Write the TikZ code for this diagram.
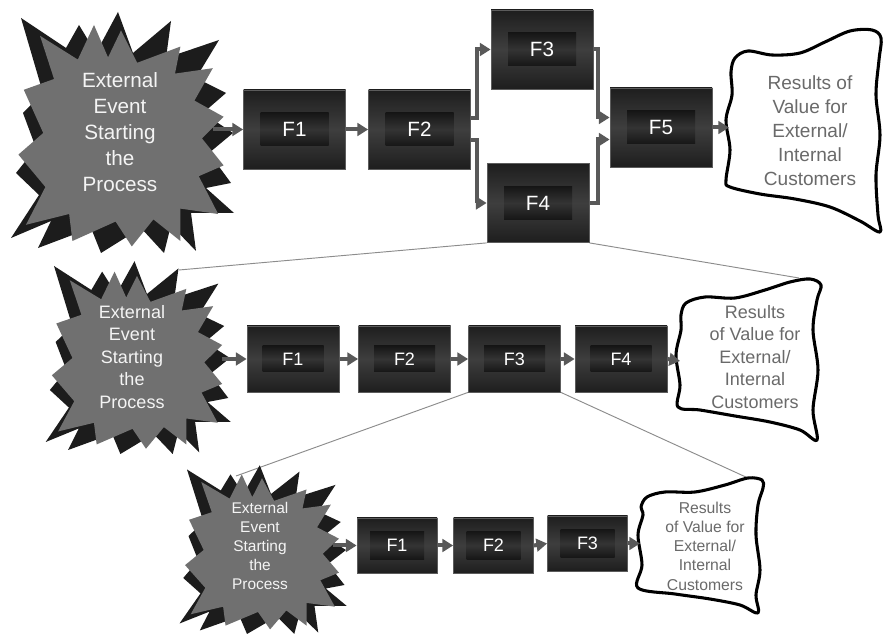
\documentclass[tikz,border=0pt]{standalone}
\usepackage{fontspec}
\setmainfont{Liberation Sans}
\usetikzlibrary{arrows.meta,calc,backgrounds}

\definecolor{burstdark}{HTML}{1C1C1C}
\definecolor{burstgray}{HTML}{707070}
\definecolor{burstwhite}{HTML}{F4F4F4}
\definecolor{boxdark}{HTML}{1E1E1E}
\definecolor{boxmid}{HTML}{3E3E3E}
\definecolor{boxedge}{HTML}{5C5C5C}
\definecolor{innerdark}{HTML}{161616}
\definecolor{innermid}{HTML}{343434}
\definecolor{arrowgray}{HTML}{595959}
\definecolor{zoomgray}{HTML}{8C8C8C}
\definecolor{resultgray}{HTML}{6A6A6A}

% font sizes for the three levels
\newcommand\szBurstA{\fontsize{15.5}{19.5}\selectfont}
\newcommand\szBurstB{\fontsize{13.5}{16.9}\selectfont}
\newcommand\szBurstC{\fontsize{11.6}{14.3}\selectfont}
\newcommand\szResA{\fontsize{14.3}{18}\selectfont}
\newcommand\szResB{\fontsize{13.5}{16.9}\selectfont}
\newcommand\szResC{\fontsize{11.8}{14.4}\selectfont}
\newcommand\szBoxA{\fontsize{15.5}{18}\selectfont}
\newcommand\szBoxB{\fontsize{13.5}{16}\selectfont}

% spiky "external event" burst: black outer star with a gray star on top
\newcommand\eventburst[4]{%
  \begin{scope}[shift={(#1,#2)},xscale=#3,yscale=#4]
    \fill[burstdark] (-3,-121) -- (12,-80) -- (50,-112) -- (45,-75) -- (98,-93)
      -- (75,-55) -- (105,-40) -- (82,-20) -- (112,0) -- (88,20) -- (110,50)
      -- (85,55) -- (113,80) -- (70,80) -- (75,118) -- (50,92) -- (43,120)
      -- (20,95) -- (-20,120) -- (-30,95) -- (-83,115) -- (-70,88) -- (-110,105)
      -- (-82,62) -- (-105,40) -- (-85,15) -- (-98,-20) -- (-78,-40)
      -- (-100,-115) -- (-55,-85) -- (-42,-108) -- (-25,-80) -- cycle;
    \fill[burstgray, scale=1.08] (0,-95) -- (15,-65) -- (55,-80) -- (50,-55)
      -- (85,-60) -- (68,-30) -- (95,-15) -- (75,5) -- (95,30) -- (72,40)
      -- (90,75) -- (55,70) -- (55,100) -- (30,80) -- (10,105) -- (-5,82)
      -- (-45,100) -- (-48,75) -- (-88,85) -- (-70,50) -- (-95,20) -- (-72,0)
      -- (-90,-40) -- (-62,-50) -- (-75,-90) -- (-40,-68) -- (-25,-100)
      -- (-12,-70) -- cycle;
  \end{scope}}

\begin{document}
\begin{tikzpicture}[x=0.75pt,y=-0.75pt,
  fbox/.style={rectangle, draw=boxedge, line width=0.6pt, top color=boxdark,
    bottom color=boxdark, middle color=boxmid, inner sep=0pt},
  finner/.style={rectangle, top color=innerdark, bottom color=innerdark,
    middle color=innermid, inner sep=0pt, text=white},
  topbox/.style={fbox, minimum width=76.5pt, minimum height=59.25pt},
  topinner/.style={finner, minimum width=51pt, minimum height=24.75pt, font=\szBoxA},
  midbox/.style={fbox, minimum width=69pt, minimum height=49.5pt},
  midinner/.style={finner, minimum width=45.75pt, minimum height=19.5pt, font=\szBoxB},
  lowbox/.style={fbox, minimum width=60pt, minimum height=41.25pt},
  lowinner/.style={finner, minimum width=40.5pt, minimum height=21pt, font=\szBoxB},
  flow/.style={draw=arrowgray, line width=3pt, -{Triangle[length=8pt,width=9.5pt]}},
  zoomline/.style={draw=zoomgray, line width=0.7pt},
  bursttext/.style={text=burstwhite, align=center, inner sep=0pt},
  resulttext/.style={text=resultgray, align=center, inner sep=0pt},
  wavyedge/.style={draw=black, line width=2.3pt, line join=round, fill=white}]

\useasboundingbox (0,0) rectangle (883,634);

% ---------------- top level ----------------
\eventburst{121}{133}{1}{1}
\node[bursttext, font=\szBurstA] (e1) at (120,132)
  {External\\Event\\Starting\\the\\Process};
\coordinate (e1out) at (213,129.5);

\node[topbox] (t1) at (294.5,129.5) {};
\node[topinner] (t1i) at (t1) {F1};
\node[topbox] (t2) at (419.5,129.5) {};
\node[topinner] (t2i) at (t2) {F2};
\node[topbox] (t3) at (542,49.5) {};
\node[topinner] (t3i) at (t3) {F3};
\node[topbox] (t4) at (538,203) {};
\node[topinner] (t4i) at (t4) {F4};
\node[topbox] (t5) at (661,127.5) {};
\node[topinner] (t5i) at (t5) {F5};

\draw[wavyedge] plot[smooth cycle, tension=0.55] coordinates {
  (731,72) (735,58) (748,51) (772,55) (800,53) (825,42) (850,31) (872,30)
  (881,38) (879,60) (876,95) (880,135) (876,175) (878,215) (880,232)
  (860,221) (830,207) (795,199) (760,194) (730,187) (726,180) (730,150)
  (726,120) (732,95)};
\node[resulttext, font=\szResA] (r1) at (810,131)
  {Results of\\Value for\\External/\\Internal\\Customers};
\coordinate (r1in) at (729,127.5);

\draw[flow] (e1out) -- (t1.west);
\draw[flow] (t1.east) -- (t2.west);
\draw[flow] ([yshift=8.5pt]t2.east) -- ++(6,0) |- (t3.west);
\draw[flow] ([yshift=-8pt]t2.east) -- ++(6,0) |- (t4.west);
\draw[flow] (t3.east) -- ++(5,0) |- ([yshift=7.5pt]t5.west);
\draw[flow] (t4.east) -- ++(9,0) |- ([yshift=-9pt]t5.west);
\draw[flow] (t5.east) -- (r1in);

% ---------------- middle level ----------------
\eventburst{137}{358}{0.83}{0.8}
\node[bursttext, font=\szBurstB] (e2) at (132,357)
  {External\\Event\\Starting\\the\\Process};
\coordinate (e2out) at (222,359);
\coordinate (e2top) at (179,270);

\node[midbox] (m1) at (293,359) {};
\node[midinner] (m1i) at (m1) {F1};
\node[midbox] (m2) at (404.5,359) {};
\node[midinner] (m2i) at (m2) {F2};
\node[midbox] (m3) at (514.5,359) {};
\node[midinner] (m3i) at (m3) {F3};
\node[midbox] (m4) at (621,359) {};
\node[midinner] (m4i) at (m4) {F4};

\draw[wavyedge] plot[smooth cycle, tension=0.55] coordinates {
  (681,315) (686,303) (705,297) (735,298) (765,290) (790,282) (810,279)
  (821,285) (817,300) (813,330) (818,370) (813,410) (817,440) (800,430)
  (770,422) (735,416) (700,410) (678,407) (680,385) (676,355) (681,330)};
\node[resulttext, font=\szResB] (r2) at (755,357)
  {Results\\of Value for\\External/\\Internal\\Customers};
\coordinate (r2in) at (680,361);
\coordinate (r2top) at (799,278);

\draw[flow] (e2out) -- (m1.west);
\draw[flow] (m1.east) -- (m2.west);
\draw[flow] (m2.east) -- (m3.west);
\draw[flow] (m3.east) -- (m4.west);
\draw[flow] (m4.east) -- (r2in);

% ---------------- bottom level ----------------
\eventburst{262}{550}{0.75}{0.7}
\node[bursttext, font=\szBurstC] (e3) at (260,546)
  {External\\Event\\Starting\\the\\Process};
\coordinate (e3out) at (333,545.5);
\coordinate (e3top) at (236,476);

\node[lowbox] (b1) at (397,545.5) {};
\node[lowinner] (b1i) at (b1) {F1};
\node[lowbox] (b2) at (493.5,545.5) {};
\node[lowinner] (b2i) at (b2) {F2};
\node[lowbox] (b3) at (587.5,543.5) {};
\node[lowinner] (b3i) at (b3) {F3};

\draw[wavyedge] plot[smooth cycle, tension=0.55] coordinates {
  (641,507) (647,497) (665,492) (695,492) (725,485) (748,478) (762,480)
  (763,488) (758,505) (756,535) (760,570) (756,595) (758,613) (740,605)
  (710,599) (675,594) (638,588) (642,565) (638,535) (643,515)};
\node[resulttext, font=\szResC] (r3) at (705,546)
  {Results\\of Value for\\External/\\Internal\\Customers};
\coordinate (r3in) at (640,543.5);
\coordinate (r3top) at (748,478);

\draw[flow] (e3out) -- (b1.west);
\draw[flow] (b1.east) -- (b2.west);
\draw[flow] (b2.east) -- (b3.west);
\draw[flow] (b3.east) -- (r3in);

% white page and zoom-in guide lines, kept behind everything else
\begin{scope}[on background layer]
  \fill[white] (0,0) rectangle (883,634);
  \draw[zoomline] (t4.south west) -- (e2top);
  \draw[zoomline] (t4.south east) -- (r2top);
  \draw[zoomline] (m3.south west) -- (e3top);
  \draw[zoomline] (m3.south east) -- (r3top);
\end{scope}
\end{tikzpicture}
\end{document}
